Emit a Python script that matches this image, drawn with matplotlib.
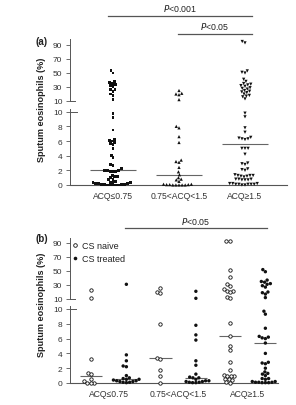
import numpy as np
import matplotlib
matplotlib.use('Agg')
import matplotlib.pyplot as plt
from matplotlib.lines import Line2D
import matplotlib.transforms as mtrans

plt.rcParams['font.family'] = ['Liberation Sans', 'DejaVu Sans']

# ---------------- data ----------------
categories = ['ACQ≤0.75', '0.75<ACQ<1.5', 'ACQ≥1.5']
upper_ticks = [10, 30, 50, 70, 90]
lower_ticks = [0, 2, 4, 6, 8, 10]

a_acq_low = [53, 50, 38, 36, 35, 33, 32, 31, 27, 26, 24, 20, 18, 12,
             9.8, 9.2, 7.5, 6.2, 6.1, 6.0, 5.8, 5.6, 5.5, 5.0, 4.0, 3.7, 2.8, 2.6, 2.2,
             2.0, 2.0, 2.0, 1.9, 1.9, 1.9, 1.3, 1.2, 1.1, 1.0, 0.8, 0.7,
             0.5, 0.4, 0.4, 0.3, 0.3, 0.2, 0.2, 0.2, 0.1, 0.1, 0.1, 0.1, 0.0, 0.0, 0.0, 0.0, 0.0]
a_acq_mid = [25, 21, 20, 19, 12, 8.0, 7.8, 6.6, 5.8, 3.4, 3.2, 3.1, 2.4, 1.8, 1.4,
             1.0, 0.8, 0.7, 0.5, 0.1, 0.1, 0.05, 0.05, 0.05, 0.0, 0.0, 0.0, 0.0, 0.0]
a_acq_high = [95, 93, 53, 51, 50, 41, 38, 35, 34, 33, 32, 31, 29, 28, 27, 25, 24, 23, 22, 20,
              18, 17, 16, 13,
              9.8, 9.3, 7.8, 7.2, 6.5, 6.4, 6.3, 6.3, 6.2, 5.0, 5.0, 5.0, 4.2, 3.0, 2.9, 2.8,
              2.2, 2.1, 2.0, 1.4, 1.3, 1.3, 1.2, 1.2, 1.1, 1.3, 0.8, 0.8, 0.7, 0.7, 0.8, 0.7,
              0.2, 0.2, 0.1, 0.1, 0.1, 0.2, 0.1, 0.1, 0.0, 0.0]

b_naive_low = [23, 12, 3.2, 1.4, 1.2, 0.6, 0.3, 0.05, 0.05, 0.05]
b_naive_mid = [26, 20, 19, 8.0, 3.4, 3.2, 1.8, 1.0, 0.0]
b_naive_high = [93, 93, 51, 41, 32, 29, 24, 22, 21, 20, 13, 12, 8.1, 6.4, 5.0, 4.5, 2.8,
                1.8, 1.1, 1.0, 1.0, 0.9, 0.6, 0.5, 0.4, 0.1, 0.05]
b_treated_low = [31, 3.8, 3.0, 2.3, 2.2, 1.0, 0.7, 0.6, 0.5, 0.5, 0.4, 0.3, 0.3, 0.2, 0.2,
                 0.1, 0.1, 0.05]
b_treated_mid = [21, 11, 7.8, 6.5, 5.8, 3.0, 2.4, 1.2, 0.8, 0.7, 0.7, 0.5, 0.3, 0.3, 0.2,
                 0.2, 0.1, 0.1, 0.05, 0.05]
b_treated_high = [52, 49, 37, 35, 34, 32, 31, 29, 27, 20, 19, 17, 12, 9.7, 9.3, 7.4, 6.3,
                  6.2, 6.1, 6.0, 5.4, 4.0, 2.8, 2.7, 2.6, 2.0, 1.5, 1.3, 1.2, 1.0, 0.6, 0.6,
                  0.5, 0.2, 0.2, 0.1, 0.1, 0.1, 0.05, 0.05, 0.05]
legend_labels = ['CS naive', 'CS treated']

# ---------------- layout ----------------
W, H = 296, 406
fig = plt.figure(figsize=(W / 100, H / 100), dpi=100)
TXT = '#222222'
SPC = '#555555'


def px_axes(left, top, right, bottom):
    return fig.add_axes([left / W, 1 - bottom / H, (right - left) / W, (bottom - top) / H])


def style(ax, ticks, ylim, xlim, upper):
    ax.set_xlim(xlim)
    ax.set_ylim(ylim)
    ax.set_yticks(ticks)
    ax.patch.set_alpha(0)
    ax.tick_params(axis='y', direction='out', length=3, width=0.6, labelsize=6,
                   pad=2.5, color=SPC, labelcolor='#333333')
    for s in ['top', 'right']:
        ax.spines[s].set_visible(False)
    ax.spines['left'].set_linewidth(0.7)
    ax.spines['left'].set_color(SPC)
    if upper:
        ax.spines['bottom'].set_visible(False)
        ax.set_xticks([])
        ax.plot([0, 0.025], [0, 0], transform=ax.transAxes, color=SPC, lw=0.7, clip_on=False)
    else:
        ax.spines['bottom'].set_linewidth(0.8)
        ax.spines['bottom'].set_color(SPC)
        ax.set_xticks(range(len(categories)))
        ax.set_xticklabels(categories, fontsize=6.2, color='#333333')
        ax.tick_params(axis='x', length=0, pad=4.5)
        tr = mtrans.blended_transform_factory(ax.transAxes, ax.transData)
        ax.plot([0, 0.03], [10, 10], transform=tr, color=SPC, lw=0.7, clip_on=False)


def swarm(ypix, d):
    xs = np.zeros(len(ypix))
    placed = []
    for i in np.argsort(ypix):
        y = ypix[i]
        cands = [0.0]
        for (px, py) in placed:
            dy = y - py
            if abs(dy) < d:
                dx = np.sqrt(d * d - dy * dy)
                cands += [px + dx, px - dx]
        cands = sorted(cands, key=lambda c: (abs(c), c))
        for c in cands:
            if all((c - px) ** 2 + (y - py) ** 2 >= d * d - 1e-6 for (px, py) in placed):
                xs[i] = c
                break
        placed.append((xs[i], y))
    return xs


def draw_group(ax_up, ax_lo, center, values, marker, s, d, face, edge, lw, hw):
    vals = np.asarray(values, float)
    for ax, mask in ((ax_up, vals > 10), (ax_lo, vals <= 10)):
        v = vals[mask]
        if v.size == 0:
            continue
        pts = ax.transData.transform(np.column_stack([np.full(v.size, center), v]))
        offs = swarm(pts[:, 1], d)
        ppu = ax.transData.transform([[1, 0]])[0, 0] - ax.transData.transform([[0, 0]])[0, 0]
        ax.scatter(center + offs / ppu, v, marker=marker, s=s, facecolors=face,
                   edgecolors=edge, linewidths=lw, clip_on=False, zorder=3)
    ax_lo.hlines(np.median(vals), center - hw, center + hw, colors='#666666', lw=0.8, zorder=2)


def bracket(ax, x0, x1, y_line, y_text, label):
    tr = mtrans.blended_transform_factory(ax.transData, fig.transFigure)
    ax.plot([x0, x1], [1 - y_line / H] * 2, transform=tr, color='#555555', lw=0.9, clip_on=False)
    ax.text((x0 + x1) / 2, 1 - y_text / H, label, transform=tr, ha='center', va='center',
            fontsize=6.3, color=TXT)


# ---------------- panel (a) ----------------
xlim_a = ((70 - 113) / 66, (287 - 113) / 66)
a_up = px_axes(70, 40, 287, 102)
a_lo = px_axes(70, 110, 287, 186)
style(a_up, upper_ticks, (10, 10 + 62 / 0.7), xlim_a, True)
style(a_lo, lower_ticks, (0, 76 / 7.33), xlim_a, False)

K = '#111111'
draw_group(a_up, a_lo, 0, a_acq_low, 's', 4.5, 2.9, K, 'none', 0, 0.35)
draw_group(a_up, a_lo, 1, a_acq_mid, '^', 5.5, 3.1, K, 'none', 0, 0.35)
draw_group(a_up, a_lo, 2, a_acq_high, 'v', 5.5, 3.1, K, 'none', 0, 0.35)

bracket(a_lo, -0.08, 2.1, 17, 9, r'$\it{P}$<0.001')
bracket(a_lo, 0.98, 2.1, 35, 27, r'$\it{P}$<0.05')
fig.text(36 / W, 1 - 42 / H, '(a)', fontsize=7, fontweight='bold', color=TXT, va='center', ha='left')
fig.text(42 / W, 1 - 110 / H, 'Sputum eosinophils (%)', rotation=90, fontsize=6.6,
         fontweight='bold', color=TXT, va='center', ha='center')

# ---------------- panel (b) ----------------
xlim_b = ((70 - 109) / 69.5, (278 - 109) / 69.5)
b_up = px_axes(70, 239, 278, 300)
b_lo = px_axes(70, 307, 278, 384)
style(b_up, upper_ticks, (10, 10 + 61 / 0.7), xlim_b, True)
style(b_lo, lower_ticks, (0, 77 / 7.4), xlim_b, False)

naive = [b_naive_low, b_naive_mid, b_naive_high]
treated = [b_treated_low, b_treated_mid, b_treated_high]
for i in range(3):
    draw_group(b_up, b_lo, i - 0.26, naive[i], 'o', 6, 3.5, 'white', K, 0.6, 0.16)
    draw_group(b_up, b_lo, i + 0.25, treated[i], 'o', 6, 3.3, K, 'none', 0, 0.16)

bracket(b_lo, 0.23, 2.27, 229, 222, r'$\it{P}$<0.05')
fig.text(36 / W, 1 - 239 / H, '(b)', fontsize=7, fontweight='bold', color=TXT, va='center', ha='left')
fig.text(42 / W, 1 - 305 / H, 'Sputum eosinophils (%)', rotation=90, fontsize=6.6,
         fontweight='bold', color=TXT, va='center', ha='center')

handles = [Line2D([], [], ls='', marker='o', ms=2.6, mfc='white', mec=K, mew=0.6),
           Line2D([], [], ls='', marker='o', ms=2.6, mfc=K, mec=K, mew=0)]
b_up.legend(handles, legend_labels, loc='upper left', bbox_to_anchor=(73 / W, 1 - 242 / H),
            bbox_transform=fig.transFigure, frameon=False, fontsize=6.5, handlelength=0.5,
            handletextpad=0.45, labelspacing=0.45, borderpad=0, borderaxespad=0,
            labelcolor=TXT)

fig.savefig('out.png', dpi=100)
